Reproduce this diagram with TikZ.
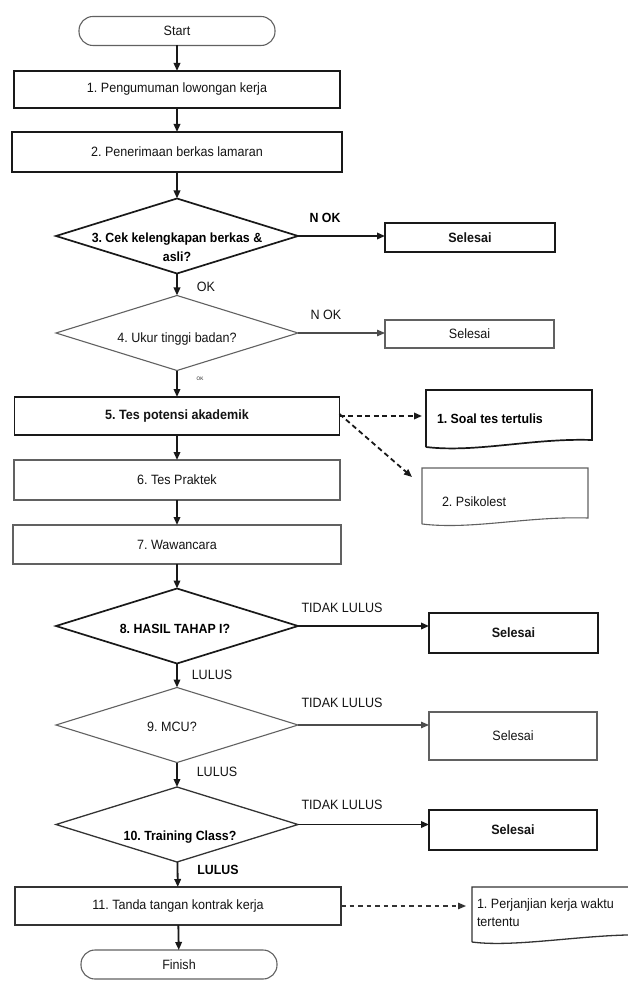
\documentclass[tikz,border=0pt]{standalone}
\usepackage{fontspec}
\setmainfont{Liberation Sans}[FakeStretch=0.93]
\frenchspacing
\usetikzlibrary{arrows.meta,shapes.geometric,calc}
\begin{document}
\begin{tikzpicture}[x=1pt,y=-1pt,
  font=\fontsize{13.5}{15}\selectfont,
  every node/.style={inner sep=0pt,outer sep=0pt,text=black!92},
  sz/.style 2 args={minimum width=#1,minimum height=#2},
  thk/.style={draw=black!90,line width=1.7pt},
  med/.style={draw=black!80,line width=1.3pt},
  thn/.style={draw=black!62,line width=1.1pt},
  term/.style={thn,rounded corners=14pt},
  dia/.style={diamond,sz={242}{75}},
  bt/.style={font=\fontsize{13.3}{19}\selectfont\bfseries,text=black},
  arr/.style={-{Triangle[length=8pt,width=6.5pt]},line width=1.8pt,draw=black!90},
  arrt/.style={-{Triangle[length=8pt,width=6.5pt]},line width=1.1pt,draw=black!70},
  dsh/.style={-{Triangle[length=8pt,width=6.5pt]},line width=1.8pt,draw=black!90,dash pattern=on 5pt off 3.5pt},
  dshm/.style={-{Triangle[length=8pt,width=6.5pt]},line width=1.2pt,draw=black!80,dash pattern=on 4.5pt off 4pt},
]
\clip (0,0) rectangle (628,981);
\fill[white] (0,0) rectangle (628,981);

% main column
\node[term,sz={196}{29}] (start) at (177,31) {Start};
\node[thk,sz={326}{37}] (b1) at (177,89.5) {1. Pengumuman lowongan kerja};
\node[thk,sz={330}{40}] (b2) at (177,152) {2. Penerimaan berkas lamaran};
\node[dia,thk] (d3) at (177,236) {};
\node[bt,align=center] (d3t) at (177,247) {3. Cek kelengkapan berkas \&\\asli?};
\node[dia,thn] (d4) at (177,333) {};
\node (d4t) at (177,339) {4. Ukur tinggi badan?};
\node[thk,sz={325}{38}] (b5) at (177,416) {\bfseries 5. Tes potensi akademik};
\node[thn,sz={326}{40}] (b6) at (177,480) {6. Tes Praktek};
\node[thn,sz={328}{39}] (b7) at (177,544.5) {7. Wawancara};
\node[dia,thk] (d8) at (177,626) {};
\node[bt] (d8t) at (175,629) {8. HASIL TAHAP I?};
\node[dia,thn] (d9) at (177,725) {};
\node (d9t) at (172,727) {9. MCU?};
\node[dia,med] (d10) at (177,824.5) {};
\node[bt] (d10t) at (180,837) {10. Training Class?};
\node[med,sz={326}{38}] (b11) at (178,906) {11. Tanda tangan kontrak kerja};
\node[term,sz={196}{29}] (fin) at (179,964.5) {Finish};

% end boxes
\node[thk,sz={170}{29}] (s1) at (470,237.5) {\bfseries Selesai};
\node[thn,sz={169}{28}] (s2) at (469.5,334) {Selesai};
\node[thk,sz={169}{40}] (s3) at (513.5,633) {\bfseries Selesai};
\node[thn,sz={168}{48}] (s4) at (513,736) {Selesai};
\node[thk,sz={168}{40}] (s5) at (513,830) {\bfseries Selesai};

% documents
\node[sz={166}{50}] (doc1) at (509,415) {};
\draw[thk] ($(doc1.south west)+(0,7)$) -- (doc1.north west) -- (doc1.north east) -- (doc1.south east)
  .. controls +(-60,-2) and +(50,6) .. ($(doc1.south west)+(0,7)$);
\node[bt,anchor=west] (doc1t) at (437,419) {1. Soal tes tertulis};

\node[sz={166}{50}] (doc2) at (505,493) {};
\draw[thn] ($(doc2.south west)+(0,6)$) -- (doc2.north west) -- (doc2.north east) -- (doc2.south east)
  .. controls +(-60,-2) and +(50,6) .. ($(doc2.south west)+(0,6)$);
\node[anchor=west] (doc2t) at (442,502) {2. Psikolest};

\node[sz={178}{48}] (doc3) at (561,911) {};
\draw[med] ($(doc3.south west)+(0,7)$) -- (doc3.north west) -- (doc3.north east) -- (doc3.south east)
  .. controls +(-60,-2) and +(45,6) .. ($(doc3.south west)+(0,7)$);
\node[anchor=west,align=left,font=\fontsize{13.5}{18}\selectfont] (doc3t) at (477,913) {1. Perjanjian kerja waktu\\tertentu};

% labels
\node[bt] (l1) at (325,218) {N OK};
\node (l2) at (326,315) {N OK};
\node (l3) at (206,287) {OK};
\node[font=\fontsize{5}{6}\selectfont] (l4) at (200,379) {OK};
\node (l5) at (342,608) {TIDAK LULUS};
\node (l6) at (212,675) {LULUS};
\node (l7) at (342,703) {TIDAK LULUS};
\node (l8) at (217,772) {LULUS};
\node (l9) at (342,805) {TIDAK LULUS};
\node[bt] (l10) at (218,870) {LULUS};

% connectors
\draw[arr] (start) -- (b1);
\draw[arr] (b1) -- (b2);
\draw[arr] (b2) -- (d3);
\draw[arr] (d3) -- (d4);
\draw[arr] (d3.east) -- (d3.east -| s1.west);
\draw[arrt] (d4.east) -- (d4.east -| s2.west);
\draw[arr] (d4) -- (b5);
\draw[dsh,shorten >=4pt] (b5.east) -- (b5.east -| doc1.west);
\draw[dsh] ([yshift=2pt]b5.east) -- ($(doc2.north west)+(-10,9)$);
\draw[arr] (b5) -- (b6);
\draw[arr] (b6) -- (b7);
\draw[arr] (b7) -- (d8);
\draw[arr] (d8.east) -- (d8.east -| s3.west);
\draw[arr] (d8) -- (d9);
\draw[arrt] (d9.east) -- (d9.east -| s4.west);
\draw[arr] (d9) -- (d10);
\draw[arr] (d10.east) -- (d10.east -| s5.west);
\draw[arr] (d10) -- (b11);
\draw[arr] (b11) -- (fin);
\draw[dshm,shorten >=6pt] (b11.east) -- (b11.east -| doc3.west);
\end{tikzpicture}
\end{document}
